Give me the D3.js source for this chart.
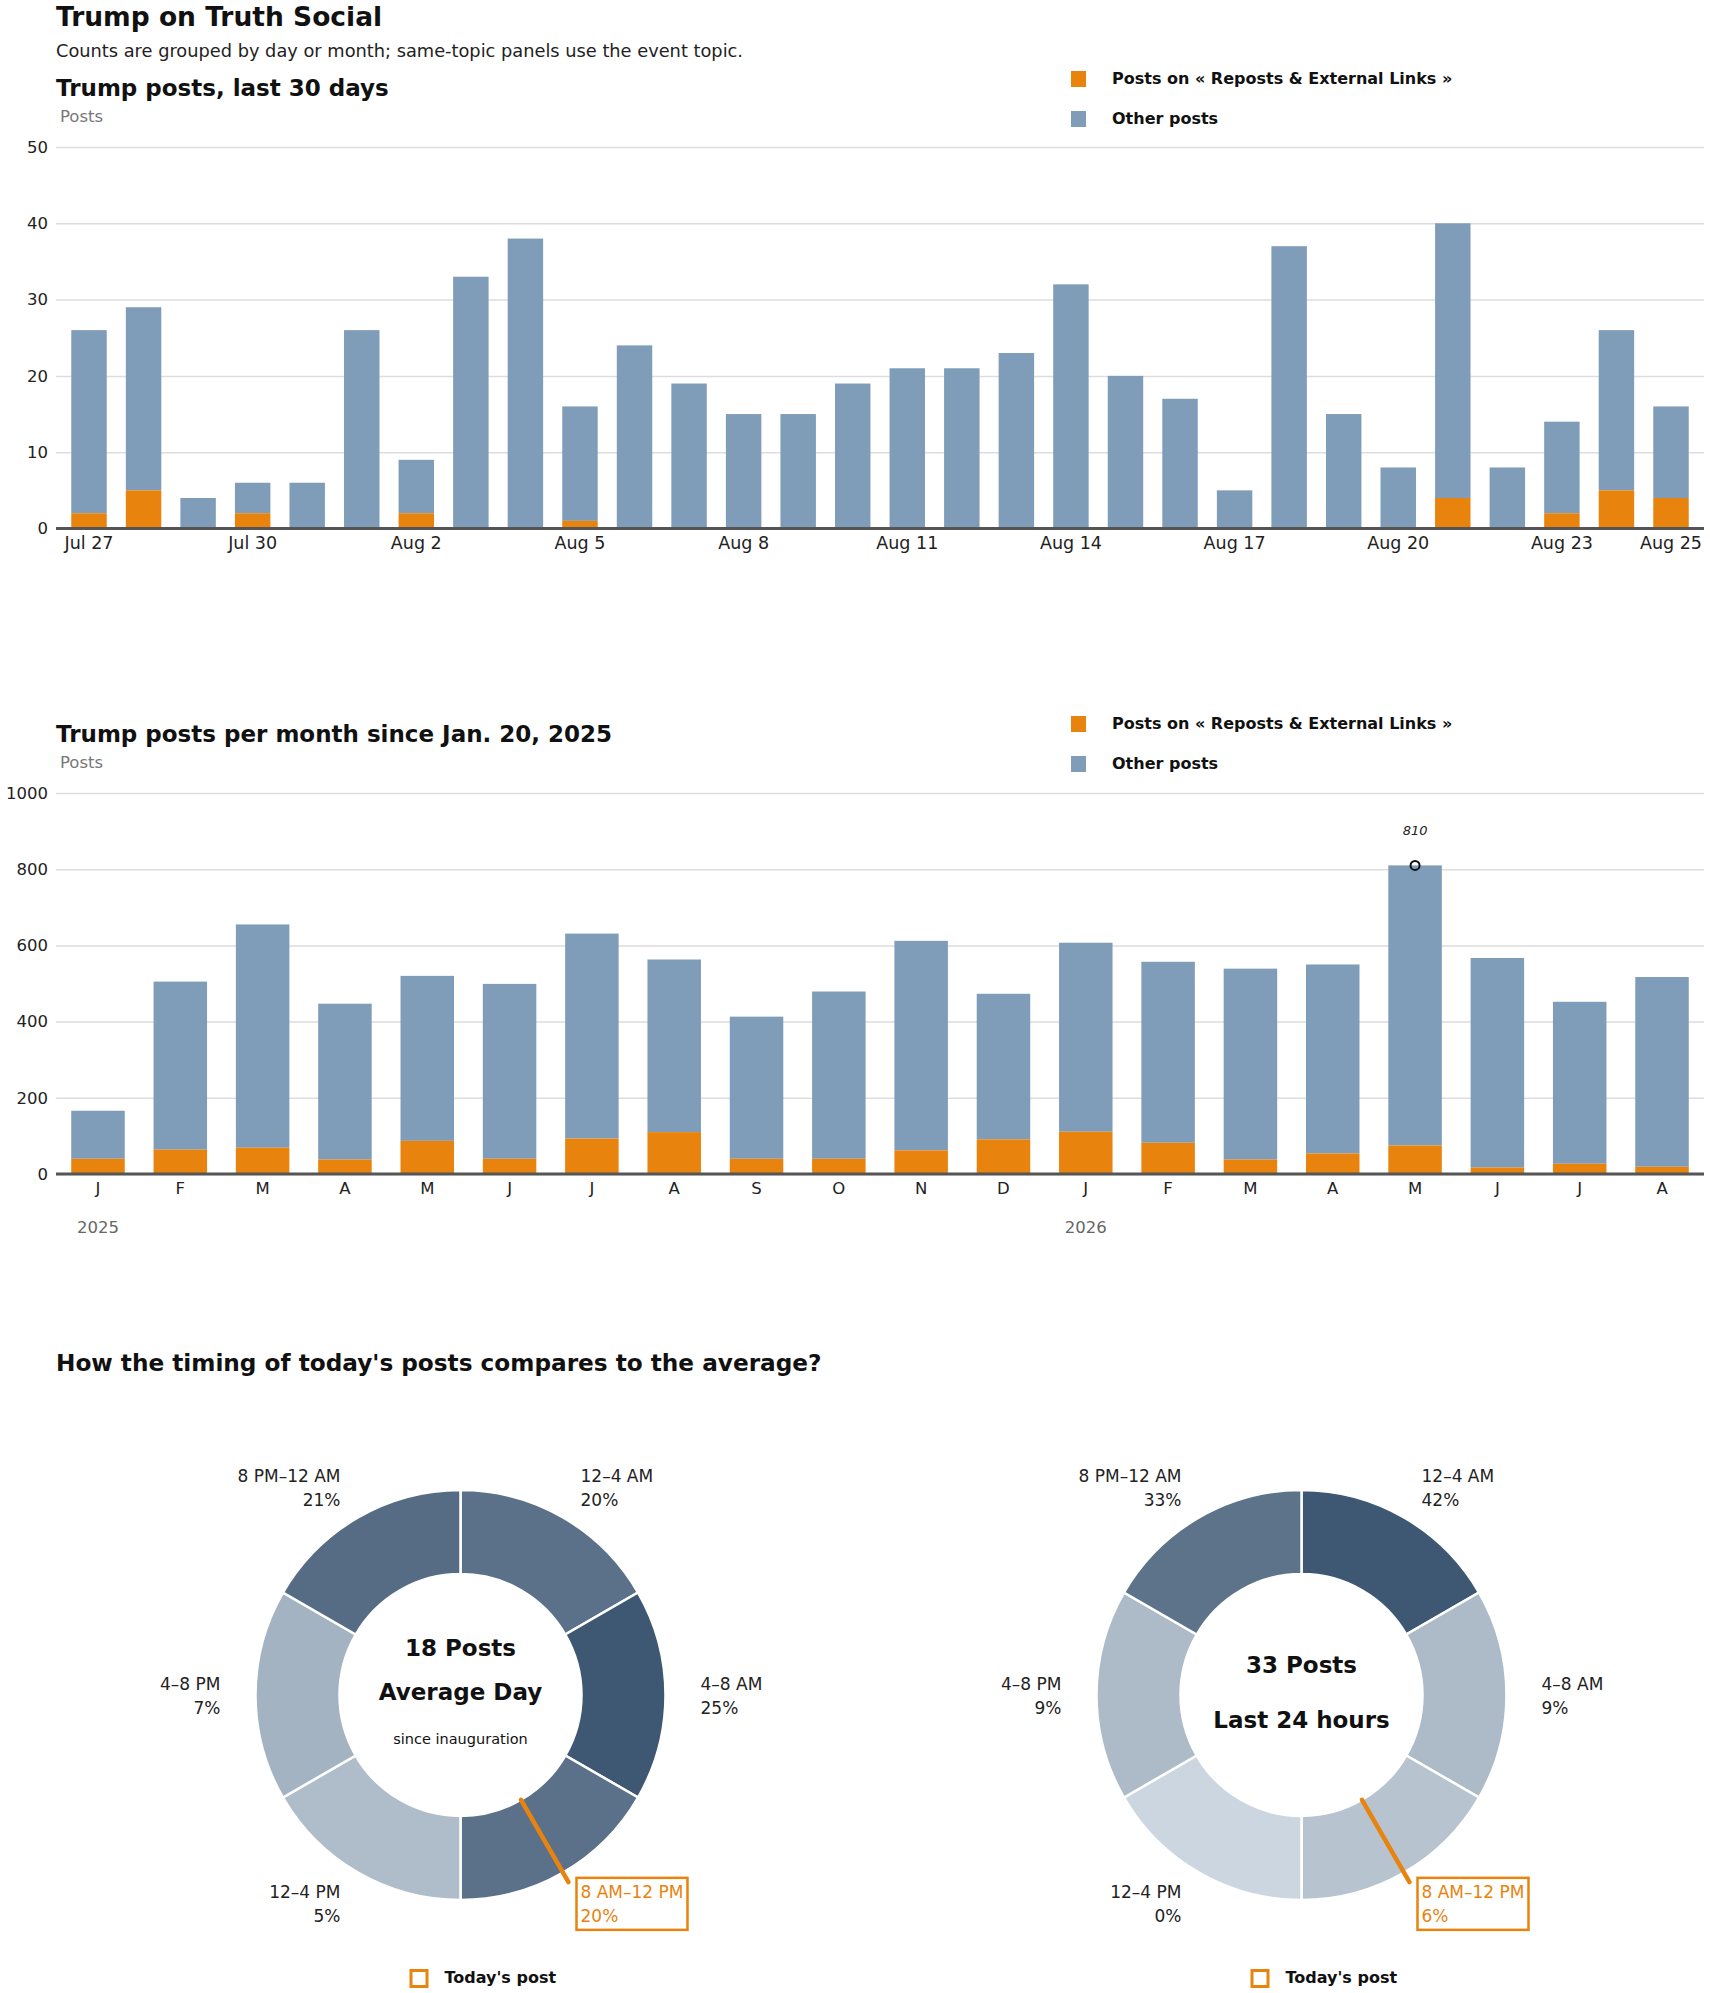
<!DOCTYPE html>
<html>
<head>
<meta charset="utf-8">
<script src="https://cdn.jsdelivr.net/npm/d3@7"></script>
<style>
  html, body { margin: 0; padding: 0; background: #fff; }
  svg { display: block; font-family: "DejaVu Sans", "Liberation Sans", sans-serif; }
</style>
</head>
<body>
<svg id="chart" width="1710" height="1993"></svg>
<script>
// ---------- DATA ----------
const dayLabels = ["Jul 27","Jul 28","Jul 29","Jul 30","Jul 31","Aug 1","Aug 2","Aug 3","Aug 4","Aug 5",
  "Aug 6","Aug 7","Aug 8","Aug 9","Aug 10","Aug 11","Aug 12","Aug 13","Aug 14","Aug 15",
  "Aug 16","Aug 17","Aug 18","Aug 19","Aug 20","Aug 21","Aug 22","Aug 23","Aug 24","Aug 25"];
const dayTickLabels = ["Jul 27","Jul 30","Aug 2","Aug 5","Aug 8","Aug 11","Aug 14","Aug 17","Aug 20","Aug 23","Aug 25"];
const dailyTotal = [26,29,4,6,6,26,9,33,38,16,24,19,15,15,19,21,21,23,32,20,17,5,37,15,8,40,8,14,26,16];
const dailyTopic = [2,5,0,2,0,0,2,0,0,1,0,0,0,0,0,0,0,0,0,0,0,0,0,0,0,4,0,2,5,4];
const dailyTicks = [0,10,20,30,40,50];

const monthKeys = ["2025-01","2025-02","2025-03","2025-04","2025-05","2025-06","2025-07","2025-08","2025-09","2025-10",
  "2025-11","2025-12","2026-01","2026-02","2026-03","2026-04","2026-05","2026-06","2026-07","2026-08"];
const monthLabels = ["J","F","M","A","M","J","J","A","S","O","N","D","J","F","M","A","M","J","J","A"];
const yearLabels = [{key:"2025-01", label:"2025"}, {key:"2026-01", label:"2026"}];
const monthlyTotal = [166,505,655,447,520,499,631,563,413,479,612,473,607,557,539,550,810,567,452,517];
const monthlyTopic = [40,64,69,38,87,40,93,110,40,40,62,91,111,82,38,54,75,17,27,19];
const monthlyTicks = [0,200,400,600,800,1000];
const monthlyPeakKey = "2026-05";

const slots = ["12–4 AM","4–8 AM","8 AM–12 PM","12–4 PM","4–8 PM","8 PM–12 AM"];
const avgPct = [20,25,20,5,7,21];
const todayPct = [42,9,6,0,9,33];
const highlightSlot = "8 AM–12 PM";

const ORANGE = "#E8830E", BLUE = "#7F9DB9";
const legendLabels = ["Posts on « Reposts & External Links »", "Other posts"];

const svg = d3.select("#chart");
const FONT = "'DejaVu Sans', 'Liberation Sans', sans-serif";

// ---------- HEADER ----------
svg.append("text").attr("x",56).attr("y",26).attr("font-size",26.5).attr("font-weight",700)
  .attr("fill","#111").text("Trump on Truth Social");
svg.append("text").attr("x",56).attr("y",57).attr("font-size",17.8).attr("fill","#222")
  .text("Counts are grouped by day or month; same-topic panels use the event topic.");

function legend(y0) {
  const g = svg.append("g");
  [ORANGE, BLUE].forEach((c,i) => {
    g.append("rect").attr("x",1071).attr("y",y0 + i*40).attr("width",15).attr("height",16).attr("fill",c);
    g.append("text").attr("x",1112).attr("y",y0 + 13 + i*40).attr("font-size",16).attr("font-weight",700)
      .attr("fill","#111").text(legendLabels[i]);
  });
}

function barChart(opt) {
  const g = svg.append("g");
  const x = d3.scaleBand().domain(opt.keys).range([56,1704]).paddingInner(0.35).paddingOuter(opt.po);
  const y = d3.scaleLinear().domain([0, opt.max]).range([opt.y0, opt.y1]);
  g.append("text").attr("x",56).attr("y",opt.titleY).attr("font-size",23).attr("font-weight",700)
    .attr("fill","#111").text(opt.title);
  g.append("text").attr("x",60).attr("y",opt.titleY+26).attr("font-size",16.5).attr("fill","#777").text("Posts");
  // grid
  const yAxis = d3.axisLeft(y).tickValues(opt.ticks).tickFormat(d3.format("d")).tickSize(-(1704-56)).tickPadding(8);
  const ga = g.append("g").attr("transform","translate(56,0)").call(yAxis);
  ga.select(".domain").remove();
  ga.selectAll(".tick line").attr("stroke","#ddd").attr("stroke-width",1.5);
  ga.selectAll(".tick text").attr("font-size",16.5).attr("fill","#222").attr("font-family",FONT);
  // bars
  const data = opt.keys.map((k,i) => ({k, total: opt.total[i], topic: opt.topic[i]}));
  g.append("g").selectAll("rect").data(data).join("rect")
    .attr("x", d => x(d.k)).attr("width", x.bandwidth())
    .attr("y", d => y(d.total)).attr("height", d => y(d.topic) - y(d.total)).attr("fill", BLUE);
  g.append("g").selectAll("rect").data(data).join("rect")
    .attr("x", d => x(d.k)).attr("width", x.bandwidth())
    .attr("y", d => y(d.topic)).attr("height", d => y(0) - y(d.topic)).attr("fill", ORANGE);
  // baseline
  g.append("line").attr("x1",56).attr("x2",1704).attr("y1",y(0)).attr("y2",y(0))
    .attr("stroke","#555").attr("stroke-width",3);
  // x labels
  const xAxis = d3.axisBottom(x).tickValues(opt.tickKeys).tickFormat(opt.tickFormat).tickSize(0).tickPadding(opt.tickPad);
  const gx = g.append("g").attr("transform",`translate(0,${y(0)})`).call(xAxis);
  gx.select(".domain").remove();
  gx.selectAll(".tick text").attr("font-size",opt.xfs).attr("fill","#222").attr("font-family",FONT);
  return {g, x, y};
}

// ---------- CHART 1 ----------
legend(71);
barChart({
  keys: dayLabels, total: dailyTotal, topic: dailyTopic, max: 50, ticks: dailyTicks,
  y0: 528.5, y1: 147, po: 0.28, title: "Trump posts, last 30 days", titleY: 96,
  tickKeys: dayTickLabels, tickFormat: d => d, tickPad: 8, xfs: 17.5
});

// ---------- CHART 2 ----------
legend(716);
const c2 = barChart({
  keys: monthKeys, total: monthlyTotal, topic: monthlyTopic, max: 1000, ticks: monthlyTicks,
  y0: 1174, y1: 793, po: 0.185, title: "Trump posts per month since Jan. 20, 2025", titleY: 742,
  tickKeys: monthKeys, tickFormat: k => monthLabels[monthKeys.indexOf(k)], tickPad: 8, xfs: 16.5
});
yearLabels.forEach(d => {
  c2.g.append("text").attr("x", c2.x(d.key) + c2.x.bandwidth()/2).attr("y",1233)
    .attr("text-anchor","middle").attr("font-size",16.5).attr("fill","#666").text(d.label);
});
{
  const i = monthKeys.indexOf(monthlyPeakKey);
  const cx = c2.x(monthlyPeakKey) + c2.x.bandwidth()/2, cy = c2.y(monthlyTotal[i]);
  c2.g.append("circle").attr("cx",cx).attr("cy",cy).attr("r",4.5).attr("fill","none")
    .attr("stroke","#111").attr("stroke-width",2);
  c2.g.append("text").attr("x",cx).attr("y",cy-30).attr("text-anchor","middle")
    .attr("font-size",13).attr("font-style","italic").attr("fill","#222").text(monthlyTotal[i]);
}

// ---------- DONUTS ----------
svg.append("text").attr("x",56).attr("y",1371).attr("font-size",23.2).attr("font-weight",700)
  .attr("fill","#111").text("How the timing of today's posts compares to the average?");

function donut(cx, cy, values, centerLines) {
  const g = svg.append("g").attr("transform",`translate(${cx},${cy})`);
  const max = d3.max(values);
  const color = d3.scaleLinear().domain([0, max]).range(["#CBD6E0","#3E5873"]).interpolate(d3.interpolateRgb);
  const data = slots.map((s,i) => ({slot:s, v: values[i]}));
  const arcs = d3.pie().value(() => 1).sort(null)(data);
  const arc = d3.arc().innerRadius(121).outerRadius(205);
  g.selectAll("path").data(arcs).join("path").attr("d", arc)
    .attr("fill", d => color(d.data.v)).attr("stroke","#fff").attr("stroke-width",2.5);
  const R = 240;
  arcs.forEach(a => {
    const ang = (a.startAngle + a.endAngle)/2;
    const lx = R*Math.sin(ang), ly = -R*Math.cos(ang);
    const hl = a.data.slot === highlightSlot;
    const t = g.append("text").attr("font-size",17).attr("fill", hl ? ORANGE : "#222")
      .attr("text-anchor", lx > 0 ? "start" : "end");
    t.append("tspan").attr("x",lx).attr("y",ly-5).text(a.data.slot);
    t.append("tspan").attr("x",lx).attr("y",ly+19).text(a.data.v + "%");
    if (hl) {
      const bb = t.node().getBBox();
      g.append("rect").attr("x",bb.x-4).attr("y",bb.y-4).attr("width",bb.width+8).attr("height",bb.height+8)
        .attr("fill","none").attr("stroke",ORANGE).attr("stroke-width",2.5);
      g.append("line").attr("x1",121*Math.sin(ang)).attr("y1",-121*Math.cos(ang))
        .attr("x2",216*Math.sin(ang)).attr("y2",-216*Math.cos(ang))
        .attr("stroke",ORANGE).attr("stroke-width",4.5).attr("stroke-linecap","round");
    }
  });
  centerLines.forEach(l => {
    g.append("text").attr("x",0).attr("y",l.y).attr("text-anchor","middle")
      .attr("font-size",l.fs).attr("font-weight",l.w).attr("fill","#111").text(l.t);
  });
  // legend
  g.append("rect").attr("x",-49.5).attr("y",1970.5-cy).attr("width",16).attr("height",16)
    .attr("fill","none").attr("stroke",ORANGE).attr("stroke-width",3);
  g.append("text").attr("x",-16).attr("y",1983-cy).attr("font-size",16).attr("font-weight",700)
    .attr("fill","#111").text("Today's post");
}

donut(460.5, 1695, avgPct, [
  {t:"18 Posts", y:-39, fs:23, w:700},
  {t:"Average Day", y:5, fs:23, w:700},
  {t:"since inauguration", y:49, fs:14.5, w:400}
]);
donut(1301.5, 1695, todayPct, [
  {t:"33 Posts", y:-22, fs:23, w:700},
  {t:"Last 24 hours", y:32.5, fs:23, w:700}
]);
</script>
</body>
</html>
